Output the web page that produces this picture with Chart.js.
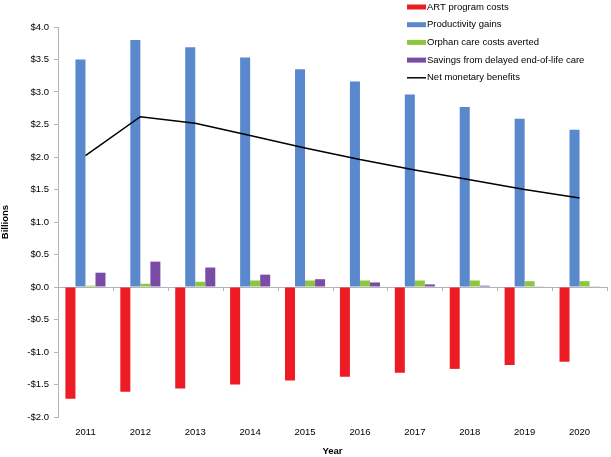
<!DOCTYPE html>
<html>
<head>
<meta charset="utf-8">
<script src="https://cdn.jsdelivr.net/npm/chart.js@4/dist/chart.umd.min.js"></script>
<style>
  html, body { margin: 0; padding: 0; background: #fff; }
  #wrap { width: 611px; height: 457px; position: relative; }
</style>
</head>
<body>
<div id="wrap"><canvas id="chart" width="611" height="457"></canvas></div>
<script>
const years = ['2011', '2012', '2013', '2014', '2015', '2016', '2017', '2018', '2019', '2020'];
const artCosts = [-1.72, -1.61, -1.56, -1.50, -1.44, -1.38, -1.32, -1.26, -1.20, -1.15];
const productivity = [3.50, 3.80, 3.69, 3.53, 3.35, 3.16, 2.96, 2.77, 2.59, 2.42];
const orphanCare = [0.02, 0.05, 0.08, 0.10, 0.10, 0.10, 0.10, 0.10, 0.09, 0.09];
const endOfLife = [0.22, 0.39, 0.30, 0.19, 0.12, 0.07, 0.04, 0.02, 0.01, 0.005];
const netBenefits = [2.02, 2.62, 2.52, 2.33, 2.14, 1.96, 1.80, 1.65, 1.50, 1.37];

const FONT = 'Liberation Sans, Arial, sans-serif';
const FONT_SIZE = 9.5;
const AXIS_GRAY = '#b4b4b4';

// legend drawn in the upper right, over the plot like the original
const legendPlugin = {
    id: 'cornerLegend',
    afterDraw(chart) {
        const ctx = chart.ctx;
        ctx.save();
        ctx.font = FONT_SIZE + 'px ' + FONT;
        ctx.textBaseline = 'middle';
        ctx.textAlign = 'left';
        chart.data.datasets.forEach((ds, i) => {
            const y = 7 + i * 17.7;
            if (ds.type === 'line') {
                ctx.strokeStyle = ds.borderColor;
                ctx.lineWidth = 1.5;
                ctx.beginPath();
                ctx.moveTo(407, y);
                ctx.lineTo(426, y);
                ctx.stroke();
            } else {
                ctx.fillStyle = ds.backgroundColor;
                ctx.fillRect(407, y - 2.5, 19, 5);
            }
            ctx.fillStyle = '#000';
            ctx.fillText(ds.label, 427, y);
        });
        ctx.restore();
    }
};

// horizontal axis line at zero, with tick marks between years
const zeroAxisPlugin = {
    id: 'zeroAxis',
    beforeDatasetsDraw(chart) {
        const ctx = chart.ctx;
        const y0 = chart.scales.y.getPixelForValue(0);
        const area = chart.chartArea;
        const step = (area.right - area.left) / years.length;
        ctx.save();
        ctx.strokeStyle = AXIS_GRAY;
        ctx.lineWidth = 1;
        ctx.beginPath();
        ctx.moveTo(area.left, y0 + 0.5);
        ctx.lineTo(area.right, y0 + 0.5);
        for (let i = 1; i <= years.length; i++) {
            const tx = Math.round(area.left + i * step) + 0.5;
            ctx.moveTo(tx, y0);
            ctx.lineTo(tx, y0 + 4);
        }
        ctx.stroke();
        ctx.restore();
    }
};

const ctx = document.getElementById('chart').getContext('2d');
new Chart(ctx, {
    data: {
        labels: years,
        datasets: [
            { type: 'bar', label: 'ART program costs', data: artCosts, backgroundColor: '#ed1c24', order: 1 },
            { type: 'bar', label: 'Productivity gains', data: productivity, backgroundColor: '#5a88cd', order: 1 },
            { type: 'bar', label: 'Orphan care costs averted', data: orphanCare, backgroundColor: '#8dc63f', order: 1 },
            { type: 'bar', label: 'Savings from delayed end-of-life care', data: endOfLife, backgroundColor: '#7a4ca6', order: 1 },
            {
                type: 'line', label: 'Net monetary benefits', data: netBenefits,
                borderColor: '#000', borderWidth: 1.5, pointRadius: 0, tension: 0, fill: false, order: 0
            }
        ]
    },
    options: {
        responsive: false,
        animation: false,
        devicePixelRatio: 1,
        layout: { padding: { top: 27, right: 4, left: 0, bottom: 0 } },
        datasets: {
            bar: { categoryPercentage: 0.73, barPercentage: 1.0 }
        },
        plugins: {
            legend: { display: false },
            tooltip: { enabled: false }
        },
        scales: {
            x: {
                grid: { display: false, drawTicks: false },
                border: { display: false },
                ticks: { color: '#000', font: { family: FONT, size: FONT_SIZE }, padding: 10, maxRotation: 0 },
                title: { display: true, text: 'Year', color: '#000', font: { family: FONT, size: FONT_SIZE, weight: 'bold' }, padding: { top: 7, bottom: 0 } },
                afterFit(scale) { scale.height = 40; }
            },
            y: {
                min: -2,
                max: 4,
                ticks: {
                    stepSize: 0.5,
                    color: '#000',
                    padding: 5,
                    font: { family: FONT, size: FONT_SIZE },
                    callback: v => (v < 0 ? '-$' : '$') + Math.abs(v).toFixed(1)
                },
                grid: { color: 'rgba(0,0,0,0)', tickColor: AXIS_GRAY, tickLength: 4, drawOnChartArea: false },
                border: { display: true, color: AXIS_GRAY, width: 1 },
                title: { display: true, text: 'Billions', color: '#000', font: { family: FONT, size: FONT_SIZE, weight: 'bold' }, padding: { top: 0, bottom: 8 } },
                afterFit(scale) { scale.width = 58; }
            }
        }
    },
    plugins: [zeroAxisPlugin, legendPlugin]
});
</script>
</body>
</html>
